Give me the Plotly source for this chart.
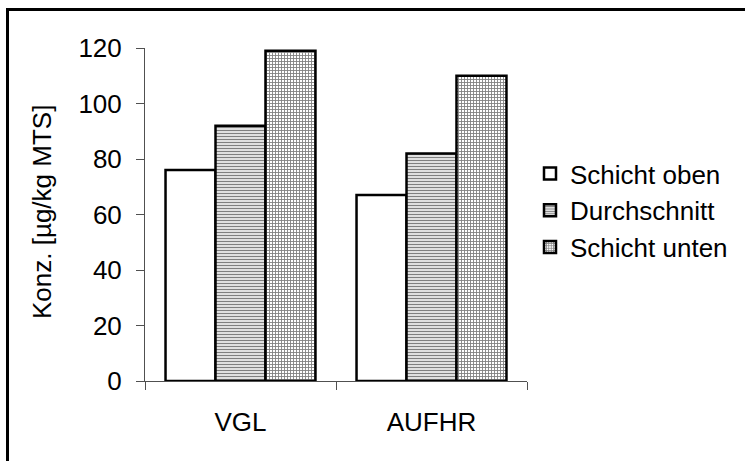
import plotly.graph_objects as go

categories = ["VGL", "AUFHR"]
series_names = ["Schicht oben", "Durchschnitt", "Schicht unten"]
schicht_oben = [76, 67]
durchschnitt = [92, 82]
schicht_unten = [119, 110]
y_ticks = [0, 20, 40, 60, 80, 100, 120]

values = [schicht_oben, durchschnitt, schicht_unten]
patterns = ["", "-", "+"]

FONT = "Arial, Liberation Sans, sans-serif"
W, H = 745, 461
ML, MR, MT, MB = 145, 218, 48, 80
PW, PH = W - ML - MR, H - MT - MB

fig = go.Figure()
for name, vals, pat in zip(series_names, values, patterns):
    marker = dict(color="white", line=dict(color="black", width=2.5))
    if pat:
        marker["pattern"] = dict(shape=pat, fgcolor="black", bgcolor="white",
                                 size=3, solidity=0.5, fillmode="overlay")
    fig.add_trace(go.Bar(x=categories, y=vals, name=name, marker=marker))

axis_col = "#505050"
fig.update_layout(
    width=W, height=H,
    margin=dict(l=ML, r=MR, t=MT, b=MB, autoexpand=False),
    paper_bgcolor="white", plot_bgcolor="white",
    barmode="group", bargap=0.215, bargroupgap=0,
    font=dict(family=FONT, size=26, color="black"),
    showlegend=True,
    legend=dict(xref="container", yref="container", x=530 / W, y=1 - 150 / H,
                xanchor="left", yanchor="top", font=dict(size=26),
                bgcolor="rgba(0,0,0,0)", tracegroupgap=0, itemwidth=30),
    xaxis=dict(type="category", range=[-0.5, 1.5], showline=True, linecolor=axis_col,
               linewidth=1, ticks="outside", tickson="boundaries", ticklen=8,
               tickcolor=axis_col, tickwidth=1, showgrid=False, zeroline=False,
               ticklabelstandoff=18, tickfont=dict(size=26), fixedrange=True),
    yaxis=dict(range=[0, 120], tickvals=y_ticks, showline=True, linecolor=axis_col,
               linewidth=1, ticks="outside", ticklen=8, tickcolor=axis_col, tickwidth=1,
               showgrid=False, zeroline=False, ticklabelstandoff=9,
               tickfont=dict(size=26), fixedrange=True),
    annotations=[dict(text="Konz. [µg/kg MTS]", xref="paper", yref="paper",
                      x=(42 - ML) / PW, y=(381 - 212) / PH, textangle=-90,
                      showarrow=False, font=dict(size=26), xanchor="center",
                      yanchor="middle")],
    shapes=[dict(type="rect", xref="paper", yref="paper",
                 x0=(7.5 - ML) / PW, x1=(760 - ML) / PW,
                 y0=(381 - 480) / PH, y1=(381 - 9.5) / PH,
                 line=dict(color="black", width=3), fillcolor="rgba(0,0,0,0)", layer="below")],
)

fig.write_html("out.html", config={"displayModeBar": False},
               post_script="document.body.style.margin='0';")
